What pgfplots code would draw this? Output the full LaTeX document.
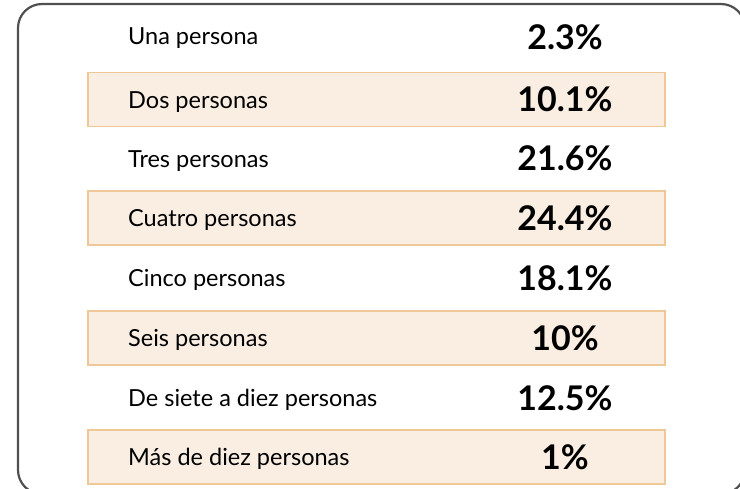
\documentclass[border=0pt]{standalone}
\usepackage{fontspec}
\setmainfont{Lato}
\usepackage{pgfplots}
\usepackage{pgfplotstable}
\pgfplotsset{compat=1.18}
\definecolor{boxfill}{RGB}{250,238,226}
\definecolor{boxedge}{RGB}{240,199,150}
\definecolor{frame}{RGB}{80,80,80}
\pgfplotstableread[col sep=comma]{
x,y,label
128,44.5,Una persona
128,108,Dos personas
128,167,Tres personas
128,226.5,Cuatro personas
128,286.5,Cinco personas
128,346.5,Seis personas
128,406.5,De siete a diez personas
128,465.5,Más de diez personas
}\labels
\pgfplotstableread[col sep=comma]{
x,y,value
565,49,2.3
565,111,10.1
565,170,21.6
565,230,24.4
565,290,18.1
565,350,10
565,410,12.5
565,469,1
}\values
\begin{document}
\begin{tikzpicture}
\begin{axis}[
  width=740pt,height=488pt,scale only axis,
  xmin=0,xmax=740,ymin=0,ymax=488,y dir=reverse,
  hide axis,clip=false,
]
\foreach \c in {99.5,218,338,457}{
  \edef\temp{\noexpand\draw[fill=boxfill,draw=boxedge,line width=1.3pt] (axis cs:88,\c-27) rectangle (axis cs:665,\c+27);}
  \temp
}
\addplot[only marks,mark=none,
  point meta=explicit symbolic,
  nodes near coords={\pgfplotspointmeta},
  every node near coord/.append style={anchor=base west,inner sep=0pt,font=\fontsize{23.5}{28}\selectfont,text=black},
] table[x=x,y=y,meta=label]{\labels};
\addplot[only marks,mark=none,
  point meta=explicit symbolic,
  nodes near coords={\pgfplotspointmeta\%},
  every node near coord/.append style={anchor=base,inner sep=0pt,font=\fontsize{34}{38}\selectfont\bfseries,text=black},
] table[x=x,y=y,meta=value]{\values};
\end{axis}
\begin{scope}
\clip (current axis.south west) rectangle (current axis.north east);
\begin{scope}[shift={(current axis.north west)}]
\draw[frame,line width=2.2pt,rounded corners=24pt] (18pt,-4pt) rectangle (745pt,-494pt);
\end{scope}
\end{scope}
\pgfresetboundingbox
\useasboundingbox (current axis.south west) rectangle (current axis.north east);
\end{tikzpicture}
\end{document}
